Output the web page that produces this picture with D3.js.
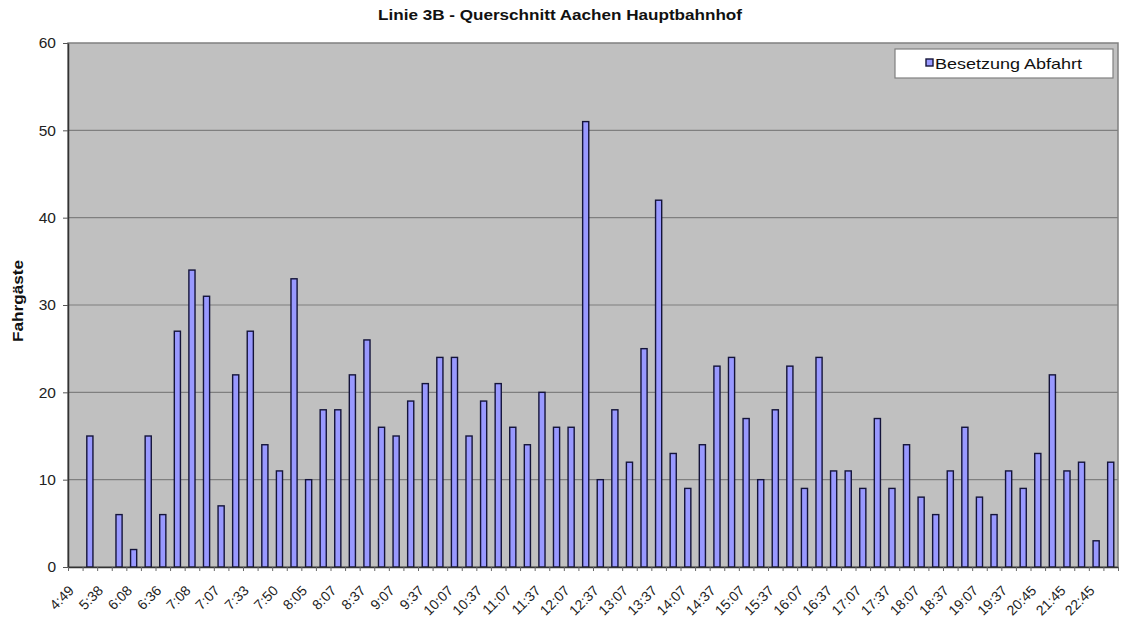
<!DOCTYPE html>
<html>
<head>
<meta charset="utf-8">
<script src="https://cdn.jsdelivr.net/npm/d3@7"></script>
<style>
  body { margin: 0; background: #fff; }
  svg text { font-family: "Liberation Sans", Arial, sans-serif; fill: #111; }
</style>
</head>
<body>
<script>
// departure times, only every other one is labelled in the chart
const tickLabels = ['4:49', '5:38', '6:08', '6:36', '7:08', '7:07', '7:33', '7:50', '8:05',
  '8:07', '8:37', '9:07', '9:37', '10:07', '10:37', '11:07', '11:37', '12:07', '12:37',
  '13:07', '13:37', '14:07', '14:37', '15:07', '15:37', '16:07', '16:37', '17:07', '17:37',
  '18:07', '18:37', '19:07', '19:37', '20:45', '21:45', '22:45'];

// Besetzung Abfahrt (passengers per departure)
const values = [0, 15, 0, 6, 2, 15, 6, 27, 34, 31, 7, 22, 27, 14, 11, 33, 10, 18, 18, 22,
  26, 16, 15, 19, 21, 24, 24, 15, 19, 21, 16, 14, 20, 16, 16, 51, 10, 18, 12, 25,
  42, 13, 9, 14, 23, 24, 17, 10, 18, 23, 9, 24, 11, 11, 9, 17, 9, 14, 8, 6,
  11, 16, 8, 6, 11, 9, 13, 22, 11, 12, 3, 12];

const yTicks = [0, 10, 20, 30, 40, 50, 60];

const margin = { top: 43, right: 4, bottom: 57, left: 68 };
const width = 1122 - margin.left - margin.right;
const height = 624 - margin.top - margin.bottom;

const svg = d3.select('body')
  .append('svg')
    .attr('width', 1122)
    .attr('height', 624);

const g = svg.append('g')
    .attr('transform', 'translate(' + margin.left + ',' + margin.top + ')');

const xScale = d3.scaleBand()
    .domain(values.map((d, i) => i))
    .range([0, width])
    .paddingInner(0.58)
    .paddingOuter(0.29);

// linear scale over category boundaries, for the tick marks between bars
const xEdges = d3.scaleLinear()
    .domain([0, values.length])
    .range([0, width]);

const yScale = d3.scaleLinear()
    .domain([0, 60])
    .range([height, 0]);

// plot area
g.append('rect')
    .attr('width', width)
    .attr('height', height)
    .attr('fill', '#c0c0c0')
    .attr('stroke', '#808080')
    .attr('stroke-width', 1.5);

// gridlines
g.append('g')
  .selectAll('line')
  .data(yTicks.filter((d) => d > 0 && d < 60))
  .enter().append('line')
    .attr('x1', 0)
    .attr('x2', width)
    .attr('y1', (d) => yScale(d))
    .attr('y2', (d) => yScale(d))
    .attr('stroke', '#7f7f7f')
    .attr('stroke-width', 1.2);

// bars
g.append('g')
  .selectAll('rect')
  .data(values)
  .enter().append('rect')
    .attr('x', (d, i) => xScale(i))
    .attr('width', xScale.bandwidth())
    .attr('y', (d) => yScale(d))
    .attr('height', (d) => height - yScale(d))
    .attr('fill', '#9999ff')
    .attr('stroke', '#14143a')
    .attr('stroke-width', 1.4);

// y axis
const yAxis = g.append('g')
    .call(d3.axisLeft(yScale)
      .tickValues(yTicks)
      .tickSize(5)
      .tickSizeOuter(0)
      .tickPadding(7));
yAxis.select('.domain').attr('stroke', '#333').attr('stroke-width', 1.5);
yAxis.selectAll('.tick line').attr('stroke', '#555');
yAxis.selectAll('text').style('font-size', '15.5px').style('fill', '#222');

// x axis: tick marks at category edges
const xTicks = g.append('g')
    .attr('transform', 'translate(0,' + height + ')')
    .call(d3.axisBottom(xEdges)
      .tickValues(d3.range(values.length + 1))
      .tickSize(4)
      .tickSizeOuter(0)
      .tickFormat(''));
xTicks.select('.domain').attr('stroke', '#333').attr('stroke-width', 1.5);
xTicks.selectAll('.tick line').attr('stroke', '#666');

// x labels, every other category, rotated
const xLabels = g.append('g')
    .attr('transform', 'translate(0,' + height + ')')
    .call(d3.axisBottom(xScale)
      .tickValues(xScale.domain().filter((i) => i % 2 === 0))
      .tickSize(0)
      .tickFormat((i) => tickLabels[i / 2]));
xLabels.select('.domain').remove();
xLabels.selectAll('text')
    .style('font-size', '14px')
    .style('fill', '#222')
    .style('text-anchor', 'end')
    .attr('x', 0)
    .attr('y', 0)
    .attr('dx', 0)
    .attr('dy', '0.35em')
    .attr('transform', 'translate(-4,21) rotate(-45)');

// title
svg.append('text')
    .attr('x', 560)
    .attr('y', 20)
    .style('text-anchor', 'middle')
    .style('font-size', '15px')
    .style('font-weight', 'bold')
    .attr('textLength', 364)
    .attr('lengthAdjust', 'spacingAndGlyphs')
    .text('Linie 3B - Querschnitt Aachen Hauptbahnhof');

// y axis label
svg.append('text')
    .attr('transform', 'translate(23,' + (margin.top + height / 2 - 4) + ') rotate(-90)')
    .style('text-anchor', 'middle')
    .style('font-size', '14px')
    .style('font-weight', 'bold')
    .attr('textLength', 82)
    .attr('lengthAdjust', 'spacingAndGlyphs')
    .text('Fahrgäste');

// legend
const legend = svg.append('g')
    .attr('transform', 'translate(895,49)');
legend.append('rect')
    .attr('width', 218)
    .attr('height', 29)
    .attr('fill', '#fff')
    .attr('stroke', '#808080')
    .attr('stroke-width', 1.2);
legend.append('rect')
    .attr('x', 31)
    .attr('y', 10)
    .attr('width', 7)
    .attr('height', 7)
    .attr('fill', '#9999ff')
    .attr('stroke', '#14143a')
    .attr('stroke-width', 1.4);
legend.append('text')
    .attr('x', 40)
    .attr('y', 19.5)
    .style('font-size', '14.5px')
    .attr('textLength', 147)
    .attr('lengthAdjust', 'spacingAndGlyphs')
    .text('Besetzung Abfahrt');
</script>
</body>
</html>
